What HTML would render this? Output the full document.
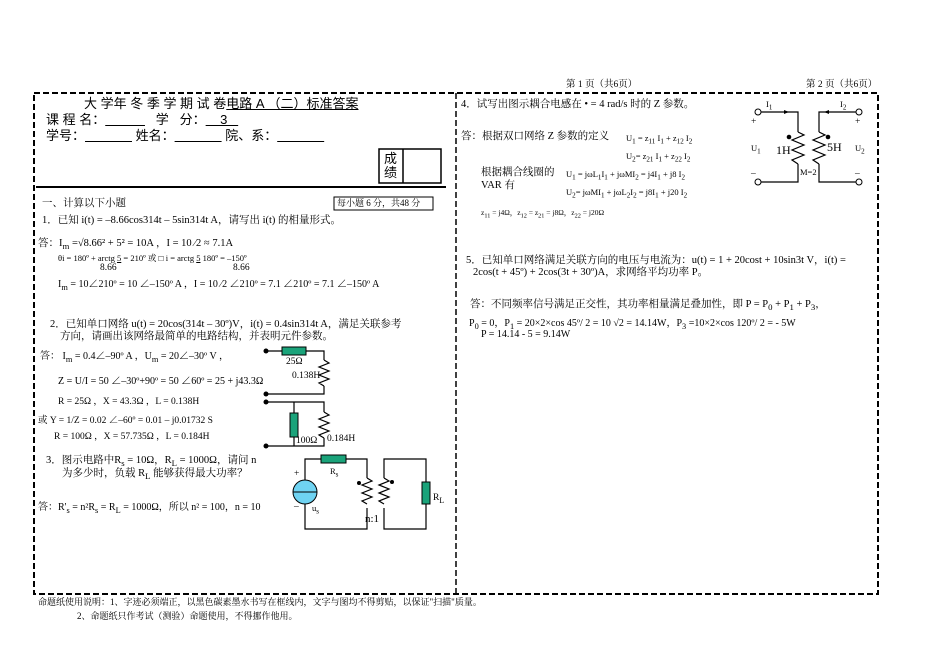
<!DOCTYPE html>
<html><head><meta charset="utf-8"><style>
body{margin:0;background:#fff;width:950px;height:672px;position:relative;overflow:hidden;font-family:"Liberation Serif","Noto Serif CJK SC","Noto Sans CJK SC",serif;color:#000}
.t{position:absolute;white-space:nowrap;font-size:10.5px;line-height:1}
.s{font-size:9.5px}
.b{font-size:13px;font-family:"Liberation Sans","Noto Sans CJK SC",sans-serif}
</style></head><body>
<svg width="950" height="672" style="position:absolute;left:0;top:0">
<rect x="34" y="93" width="844" height="501" fill="none" stroke="#000" stroke-width="2" stroke-dasharray="6,3"/>
<line x1="456" y1="93" x2="456" y2="594" stroke="#000" stroke-width="1.5" stroke-dasharray="6,3"/>
<line x1="36" y1="187" x2="446" y2="187" stroke="#000" stroke-width="2"/>
<rect x="379" y="149" width="62" height="34" fill="none" stroke="#000" stroke-width="1.5"/>
<line x1="403" y1="149" x2="403" y2="183" stroke="#000" stroke-width="1.5"/>
<rect x="334" y="197" width="99" height="13" fill="none" stroke="#000"/>
<g stroke="#000" fill="none" stroke-width="1.2">
<polyline points="266,351 324,351 324,360"/><polyline points="324,386 324,394 266,394"/>
<path d="M324,360 l5,3 l-10,4 l10,4 l-10,4 l10,4 l-10,4 l5,3"/>
<polyline points="266,402 324,402 324,412"/><polyline points="324,438 324,446 266,446"/>
<path d="M324,412 l5,3 l-10,4 l10,4 l-10,4 l10,4 l-10,4 l5,3"/>
<line x1="294" y1="402" x2="294" y2="446"/>
<polyline points="305,480 305,459 321,459"/><polyline points="346,459 367,459 367,478"/>
<polyline points="367,508 367,529 305,529 305,504"/>
<path d="M367,478 l5,3 l-10,4 l10,4 l-10,4 l10,4 l-10,4 l5,3"/>
<path d="M384,478 l5,3 l-10,4 l10,4 l-10,4 l10,4 l-10,4 l5,3"/>
<polyline points="384,478 384,459 426,459 426,482"/><polyline points="426,504 426,529 384,529 384,508"/>
<polyline points="758,112 798,112 798,132"/><polyline points="798,164 798,182 758,182"/>
<path d="M798,132 l6,3 l-12,5 l12,5 l-12,5 l12,5 l-12,5 l6,4"/>
<polyline points="856,112 819,112 819,132"/><polyline points="819,164 819,182 856,182"/>
<path d="M819,132 l6,3 l-12,5 l12,5 l-12,5 l12,5 l-12,5 l6,4"/>
</g>
<g fill="#1aa37a" stroke="#000"><rect x="282" y="347" width="24" height="8"/><rect x="290" y="413" width="8" height="24"/><rect x="321" y="455" width="25" height="8"/><rect x="422" y="482" width="8" height="22"/></g>
<circle cx="305" cy="492" r="12" fill="#6fd3f2" stroke="#000"/><line x1="293" y1="492" x2="317" y2="492" stroke="#000"/>
<g fill="#000"><circle cx="266" cy="351" r="2.5"/><circle cx="266" cy="394" r="2.5"/><circle cx="266" cy="402" r="2.5"/><circle cx="266" cy="446" r="2.5"/><circle cx="359" cy="483" r="2"/><circle cx="392" cy="482" r="2"/><circle cx="789" cy="137" r="2.3"/><circle cx="828" cy="137" r="2.3"/></g>
<g fill="#fff" stroke="#000"><circle cx="758" cy="112" r="3"/><circle cx="758" cy="182" r="3"/><circle cx="859" cy="112" r="3"/><circle cx="859" cy="182" r="3"/></g>
<path d="M789,112 l-5,-2 v4z M824,112 l5,-2 v4z" fill="#000"/>
</svg>
<div class="t s" style="left:566px;top:81px">第 1 页（共6页）</div>
<div class="t s" style="left:806px;top:81px">第 2 页（共6页）</div>
<div class="t b" style="left:84px;top:97px">大 学年 冬 季 学 期 试 卷<u>电路 A （二）标准答案</u></div>
<div class="t b" style="left:46px;top:113px">课 程 名：<u>&nbsp;&nbsp;&nbsp;&nbsp;&nbsp;&nbsp;&nbsp;&nbsp;&nbsp;&nbsp;&nbsp;</u>&nbsp;&nbsp;&nbsp;学&nbsp;&nbsp;&nbsp;分：<u>&nbsp;&nbsp;&nbsp;&nbsp;3&nbsp;&nbsp;&nbsp;</u></div>
<div class="t b" style="left:46px;top:129px">学号：<u>&nbsp;&nbsp;&nbsp;&nbsp;&nbsp;&nbsp;&nbsp;&nbsp;&nbsp;&nbsp;&nbsp;&nbsp;&nbsp;</u>&nbsp;姓名：<u>&nbsp;&nbsp;&nbsp;&nbsp;&nbsp;&nbsp;&nbsp;&nbsp;&nbsp;&nbsp;&nbsp;&nbsp;&nbsp;</u>&nbsp;院、系：<u>&nbsp;&nbsp;&nbsp;&nbsp;&nbsp;&nbsp;&nbsp;&nbsp;&nbsp;&nbsp;&nbsp;&nbsp;&nbsp;</u></div>
<div class="t b" style="left:384px;top:152px;line-height:14px">成<br>绩</div>
<div class="t" style="left:42px;top:199px">一、计算以下小题</div>
<div class="t s" style="left:337px;top:199px;font-size:9px">每小题 6 分，共48 分</div>
<div class="t" style="left:42px;top:216px">1．已知 i(t) = –8.66cos314t – 5sin314t A，请写出 i(t) 的相量形式。</div>
<div class="t s" style="left:38px;top:239px;font-size:10.5px">答：I<sub>m</sub> =√8.66² + 5² = 10A ，I = 10 ⁄2 ≈ 7.1A</div>
<div class="t s" style="left:58px;top:254px;font-size:8.5px">θi = 180º + arctg <u>5</u> = 210º 或 □ i = arctg <u>5</u> 180º = –150º</div>
<div class="t s" style="left:100px;top:264px">8.66</div><div class="t s" style="left:233px;top:264px">8.66</div>
<div class="t s" style="left:58px;top:280px;font-size:10px">I<sub>m</sub> = 10∠210º = 10 ∠–150º A ，I = 10 ⁄2 ∠210º = 7.1 ∠210º = 7.1 ∠–150º A</div>
<div class="t" style="left:50px;top:320px">2．已知单口网络 u(t) = 20cos(314t – 30º)V，i(t) = 0.4sin314t A，满足关联参考</div>
<div class="t" style="left:60px;top:332px">方向，请画出该网络最简单的电路结构，并表明元件参数。</div>
<div class="t s" style="left:40px;top:352px;font-size:10px">答：&nbsp;I<sub>m</sub> = 0.4∠–90º A ，U<sub>m</sub> = 20∠–30º V ，</div>
<div class="t s" style="left:58px;top:377px;font-size:10px">Z = U/I = 50 ∠–30º+90º = 50 ∠60º = 25 + j43.3Ω</div>
<div class="t s" style="left:58px;top:398px">R = 25Ω ，X = 43.3Ω ，L = 0.138H</div>
<div class="t s" style="left:38px;top:417px">或 Y = 1/Z = 0.02 ∠–60º = 0.01 – j0.01732 S</div>
<div class="t s" style="left:54px;top:433px">R = 100Ω ，X = 57.735Ω ，L = 0.184H</div>
<div class="t s" style="left:286px;top:358px">25Ω</div>
<div class="t s" style="left:292px;top:372px">0.138H</div>
<div class="t s" style="left:296px;top:437px">100Ω</div>
<div class="t s" style="left:327px;top:435px">0.184H</div>
<div class="t" style="left:46px;top:456px">3．图示电路中R<sub>s</sub> = 10Ω，R<sub>L</sub> = 1000Ω，请问 n</div>
<div class="t" style="left:62px;top:469px">为多少时，负载 R<sub>L</sub> 能够获得最大功率？</div>
<div class="t s" style="left:38px;top:503px;font-size:10px">答：R'<sub>s</sub> = n²R<sub>s</sub> = R<sub>L</sub> = 1000Ω，所以 n² = 100，n = 10</div>
<div class="t s" style="left:330px;top:467px;font-size:8.5px">R<sub>s</sub></div>
<div class="t s" style="left:294px;top:470px">+</div><div class="t s" style="left:294px;top:503px">–</div>
<div class="t s" style="left:312px;top:504px;font-size:8.5px">u<sub>s</sub></div>
<div class="t s" style="left:433px;top:494px">R<sub>L</sub></div>
<div class="t" style="left:365px;top:514px;font-size:11px">n:1</div>
<div class="t" style="left:461px;top:100px">4．试写出图示耦合电感在 • = 4 rad/s 时的 Z 参数。</div>
<div class="t" style="left:461px;top:132px">答：根据双口网络 Z 参数的定义</div>
<div class="t s" style="left:626px;top:134px;font-size:8.5px">U<sub>1</sub> = z<sub>11</sub> I<sub>1</sub> + z<sub>12</sub> I<sub>2</sub></div>
<div class="t s" style="left:626px;top:152px;font-size:8.5px">U<sub>2</sub>= z<sub>21</sub> I<sub>1</sub> + z<sub>22</sub> I<sub>2</sub></div>
<div class="t" style="left:481px;top:168px">根据耦合线圈的</div>
<div class="t" style="left:481px;top:181px">VAR 有</div>
<div class="t s" style="left:566px;top:170px;font-size:8.5px">U<sub>1</sub> = jωL<sub>1</sub>I<sub>1</sub> + jωMI<sub>2</sub> = j4I<sub>1</sub> + j8 I<sub>2</sub></div>
<div class="t s" style="left:566px;top:188px;font-size:8.5px">U<sub>2</sub>= jωMI<sub>1</sub> + jωL<sub>2</sub>I<sub>2</sub> = j8I<sub>1</sub> + j20 I<sub>2</sub></div>
<div class="t s" style="left:481px;top:209px;font-size:7.5px">z<sub>11</sub> = j4Ω，z<sub>12</sub> = z<sub>21</sub> = j8Ω，z<sub>22</sub> = j20Ω</div>
<div class="t s" style="left:766px;top:100px;font-size:8.5px">I<sub>1</sub></div><div class="t s" style="left:840px;top:100px;font-size:8.5px">I<sub>2</sub></div>
<div class="t s" style="left:751px;top:118px">+</div><div class="t s" style="left:855px;top:118px">+</div>
<div class="t s" style="left:751px;top:144px;font-size:8.5px">U<sub>1</sub></div><div class="t s" style="left:855px;top:144px;font-size:8.5px">U<sub>2</sub></div>
<div class="t" style="left:776px;top:144px;font-size:12px">1H</div><div class="t" style="left:827px;top:141px;font-size:12px">5H</div>
<div class="t s" style="left:800px;top:168px;font-size:8.5px">M=2</div>
<div class="t s" style="left:751px;top:170px">–</div><div class="t s" style="left:855px;top:170px">–</div>
<div class="t" style="left:466px;top:256px">5．已知单口网络满足关联方向的电压与电流为：u(t) = 1 + 20cost + 10sin3t V，i(t) =</div>
<div class="t" style="left:473px;top:268px">2cos(t + 45º) + 2cos(3t + 30º)A，求网络平均功率 P。</div>
<div class="t" style="left:470px;top:300px">答：不同频率信号满足正交性，其功率相量满足叠加性，即 P = P<sub>0</sub> + P<sub>1</sub> + P<sub>3</sub>，</div>
<div class="t s" style="left:469px;top:319px;font-size:10px">P<sub>0</sub> = 0，P<sub>1</sub> = 20×2×cos 45º/ 2 = 10 √2 = 14.14W，P<sub>3</sub> =10×2×cos 120º/ 2 = - 5W</div>
<div class="t s" style="left:481px;top:330px;font-size:10px">P = 14.14 - 5 = 9.14W</div>
<div class="t s" style="left:38px;top:598px;font-size:9px">命题纸使用说明：1、字迹必须端正，以黑色碳素墨水书写在框线内，文字与图均不得剪贴，以保证"扫描"质量。</div>
<div class="t s" style="left:77px;top:612px;font-size:9px">2、命题纸只作考试（测验）命题使用，不得挪作他用。</div>
</body></html>
